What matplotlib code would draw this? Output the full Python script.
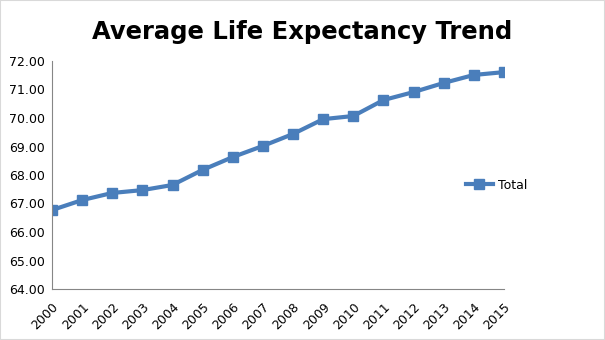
import matplotlib
matplotlib.use("Agg")
import matplotlib.pyplot as plt
from matplotlib.patches import Rectangle

years = [str(y) for y in range(2000, 2016)]
total = [66.77, 67.12, 67.37, 67.47, 67.65, 68.18, 68.63, 69.02,
         69.44, 69.96, 70.07, 70.63, 70.91, 71.23, 71.51, 71.61]
yticks = [64, 65, 66, 67, 68, 69, 70, 71, 72]

fig = plt.figure(figsize=(6.05, 3.4), dpi=100)
ax = fig.add_axes([52 / 605, 1 - 289 / 340, (504 - 52) / 605, (289 - 61) / 340])

x = list(range(len(years)))
ax.plot(x, total, color="#4a7ebb", lw=3, marker="s", markersize=6.5, label="Total")

ax.set_xlim(0, len(years) - 1)
ax.set_ylim(64, 72)
ax.set_xticks(x)
ax.set_xticklabels(years, rotation=45, ha="right", rotation_mode="anchor", fontsize=9)
ax.set_yticks(yticks)
ax.set_yticklabels([f"{v:.2f}" for v in yticks], fontsize=9)
ax.tick_params(length=0, pad=5)
ax.tick_params(axis="x", pad=8)

for s in ["top", "right"]:
    ax.spines[s].set_visible(False)
for s in ["left", "bottom"]:
    ax.spines[s].set_color("#868686")

fig.text(0.5, 1 - 32 / 340, "Average Life Expectancy Trend", ha="center", va="center",
         fontsize=17.5, fontweight="bold")

ax.legend(loc="center left", bbox_to_anchor=(0.915, 0.455), frameon=False, fontsize=9,
          borderpad=0, borderaxespad=0, handlelength=2.2, handletextpad=0.4)

fig.patches.append(Rectangle((0, 0), 1, 1, transform=fig.transFigure, fill=False,
                             edgecolor="#d9d9d9", lw=1.5))

fig.savefig("out.png", dpi=100)
